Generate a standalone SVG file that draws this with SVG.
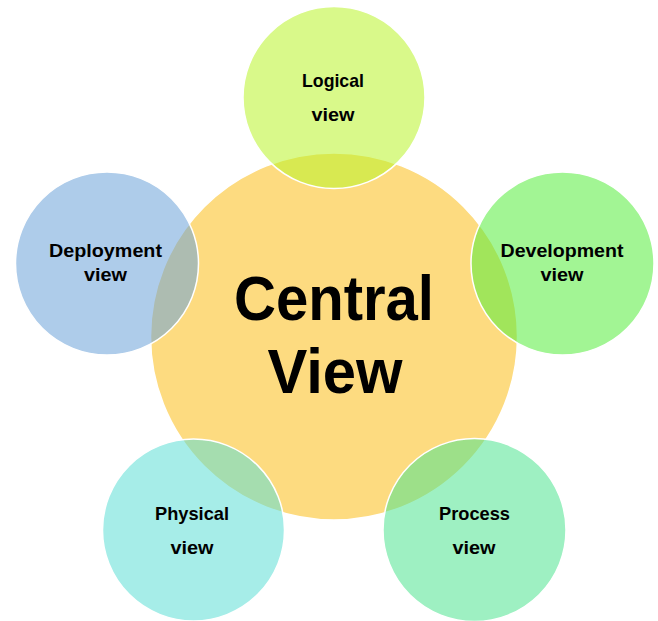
<svg xmlns="http://www.w3.org/2000/svg" width="658" height="621" viewBox="0 0 658 621">
<style>
.node circle{stroke:#ffffff;stroke-width:1.5}
.outer{fill-opacity:0.55}
.lbl{font-family:"Liberation Sans",Arial,sans-serif;font-weight:bold;font-size:19px;fill:#000;text-anchor:middle}
.big{font-family:"Liberation Sans",Arial,sans-serif;font-weight:bold;font-size:63px;fill:#000;text-anchor:middle}
</style>
<rect width="658" height="621" fill="#ffffff"/>
<g id="central" class="node">
<circle cx="334" cy="336.5" r="183.5" fill="#FDDB80"/>
<text class="big" x="334" y="320" textLength="200" lengthAdjust="spacingAndGlyphs">Central</text>
<text class="big" x="335" y="393" textLength="135" lengthAdjust="spacingAndGlyphs">View</text>
</g>
<g id="connectors"></g>
<g id="logical" class="node">
<circle class="outer" cx="334" cy="97.5" r="91" fill="#BAF42A"/>
<text class="lbl" x="333" y="87" textLength="62" lengthAdjust="spacingAndGlyphs">Logical</text>
<text class="lbl" x="333" y="121" textLength="43" lengthAdjust="spacingAndGlyphs">view</text>
</g>
<g id="deployment" class="node">
<circle class="outer" cx="107" cy="263.5" r="91.5" fill="#6CA2D9"/>
<text class="lbl" x="105.5" y="257" textLength="113" lengthAdjust="spacingAndGlyphs">Deployment</text>
<text class="lbl" x="105.5" y="281" textLength="43" lengthAdjust="spacingAndGlyphs">view</text>
</g>
<g id="development" class="node">
<circle class="outer" cx="562.5" cy="263.5" r="91.5" fill="#56ED3C"/>
<text class="lbl" x="562" y="257" textLength="123" lengthAdjust="spacingAndGlyphs">Development</text>
<text class="lbl" x="562" y="281" textLength="43" lengthAdjust="spacingAndGlyphs">view</text>
</g>
<g id="physical" class="node">
<circle class="outer" cx="193.5" cy="530" r="91" fill="#5DDED5"/>
<text class="lbl" x="192" y="520" textLength="74" lengthAdjust="spacingAndGlyphs">Physical</text>
<text class="lbl" x="192" y="554" textLength="43" lengthAdjust="spacingAndGlyphs">view</text>
</g>
<g id="process" class="node">
<circle class="outer" cx="474.5" cy="530" r="91.5" fill="#4FE490"/>
<text class="lbl" x="474.5" y="520" textLength="71" lengthAdjust="spacingAndGlyphs">Process</text>
<text class="lbl" x="474" y="554" textLength="43" lengthAdjust="spacingAndGlyphs">view</text>
</g>
</svg>
